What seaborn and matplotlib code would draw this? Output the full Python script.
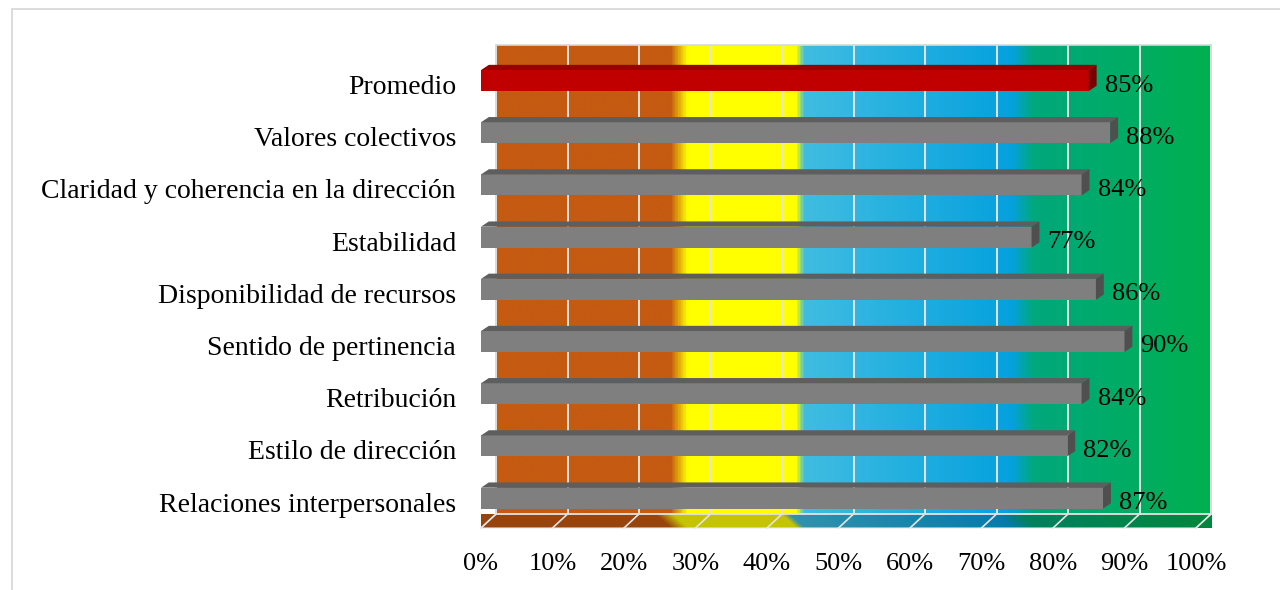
import numpy as np
import matplotlib
matplotlib.use("Agg")
import matplotlib.pyplot as plt
import seaborn as sns
import matplotlib.transforms as mtrans
from matplotlib.colors import LinearSegmentedColormap, to_rgb
from matplotlib.patches import Polygon, Rectangle

# ---------------- data ----------------
categories = [
    "Promedio",
    "Valores colectivos",
    "Claridad y coherencia en la dirección",
    "Estabilidad",
    "Disponibilidad de recursos",
    "Sentido de pertinencia",
    "Retribución",
    "Estilo de dirección",
    "Relaciones interpersonales",
]
values = [85, 88, 84, 77, 86, 90, 84, 82, 87]
bar_colors = ["#C00000"] + ["#7F7F7F"] * 8
top_colors = ["#9A0000"] + ["#5E5E5E"] * 8
side_colors = ["#7A0000"] + ["#4F4F4F"] * 8
ticks = list(range(0, 101, 10))
tick_labels = [f"{t}%" for t in ticks]

# background bands (percent positions and colours)
band_pos = [0, 24.3, 26.7, 42.0, 43.0, 72.2, 75.3, 100]
band_cols = ["#C55A11", "#C55A11", "#FFFF00", "#FFFF00",
             "#40BDE1", "#05A1DE", "#00A87C", "#00B050"]

plt.rcParams["font.family"] = ["Liberation Serif", "DejaVu Serif"]
FS_CAT = 20
FS = 19

wall_cmap = LinearSegmentedColormap.from_list(
    "wall", list(zip(np.array(band_pos) / 100, band_cols)))
floor_cmap = LinearSegmentedColormap.from_list(
    "floor", list(zip(np.array(band_pos) / 100,
                      [tuple(c * 0.77 for c in to_rgb(b)) for b in band_cols])))

fig = plt.figure(figsize=(12.8, 5.9), dpi=100)
ax = fig.add_axes([481 / 1280, (590 - 528) / 590, 715 / 1280, 469 / 590])

sns.barplot(x=values, y=categories, hue=categories, palette=bar_colors,
            legend=False, orient="h", width=0.40, saturation=1,
            ax=ax, zorder=3, linewidth=0)

# axis geometry
ybot, ytop = 8.573, -0.412
wdx, wdy = 2.1, 0.268          # depth of wall/floor (data units)
bdx, bdy = 1.1, 0.10           # depth of bars
wall_bot = ybot - wdy
wall_top = ytop - wdy

# back wall gradient
grad = np.linspace(0, 1, 1200)[None, :]
ax.imshow(grad, cmap=wall_cmap, aspect="auto", interpolation="bilinear",
          extent=[wdx, 100 + wdx, wall_bot, wall_top], clip_on=False, zorder=0)
ax.add_patch(Rectangle((wdx, wall_top), 100, wall_bot - wall_top, fill=False,
                       edgecolor="#D9D9D9", lw=1.2, clip_on=False, zorder=0.6))

# floor gradient (slanted)
nx, ny = 1200, 30
xs = np.linspace(0, 100 + wdx, nx)
fr = np.linspace(0, 1, ny)[:, None]          # 0 front -> 1 back
floor_vals = (xs[None, :] - fr * wdx) / 100
floor_img = ax.imshow(np.clip(floor_vals, 0, 1), cmap=floor_cmap, aspect="auto",
                      interpolation="bilinear", vmin=0, vmax=1,
                      extent=[0, 100 + wdx, ybot, wall_bot],
                      origin="upper", clip_on=False, zorder=0)
floor_poly = Polygon([(0, ybot), (100, ybot), (100 + wdx, wall_bot), (wdx, wall_bot)],
                     closed=True, transform=ax.transData, fill=False,
                     edgecolor="#E8E8E8", lw=0.8, clip_on=False, zorder=0.6)
ax.add_patch(floor_poly)
floor_img.set_clip_path(floor_poly)

# gridlines on wall and floor
for t in ticks:
    ax.plot([t + wdx, t + wdx], [wall_bot, wall_top], color="#E4E4E4", lw=1.4,
            clip_on=False, zorder=0.5)
    ax.plot([t, t + wdx], [ybot, wall_bot], color="#E4E4E4", lw=1.2,
            clip_on=False, zorder=0.5)

# 3D faces for bars
for patch, v, tc, sc in zip(ax.patches, values, top_colors, side_colors):
    x0 = patch.get_x()
    x1 = x0 + patch.get_width()
    ya = min(patch.get_y(), patch.get_y() + patch.get_height())
    yb = max(patch.get_y(), patch.get_y() + patch.get_height())
    ax.add_patch(Polygon([(x0, ya), (x1, ya), (x1 + bdx, ya - bdy), (x0 + bdx, ya - bdy)],
                         closed=True, facecolor=tc, edgecolor="none",
                         zorder=3.1, clip_on=False))
    ax.add_patch(Polygon([(x1, ya), (x1 + bdx, ya - bdy), (x1 + bdx, yb - bdy), (x1, yb)],
                         closed=True, facecolor=sc, edgecolor="none",
                         zorder=3.1, clip_on=False))
    ax.annotate(f"{v}%", xy=(x1, (ya + yb) / 2), xytext=(16, -5),
                textcoords="offset pixels", ha="left", va="center",
                fontsize=FS, color="black", zorder=5)

ax.set_xlim(0, 100)
ax.set_ylim(ybot, ytop)
ax.set_xticks(ticks)
ax.set_xticklabels(tick_labels, fontsize=FS)
ax.tick_params(axis="x", length=0, pad=18)
ax.tick_params(axis="y", length=0, pad=18, labelsize=FS_CAT)
shift = mtrans.ScaledTranslation(0, -7 / 100, fig.dpi_scale_trans)
for lbl in ax.get_yticklabels():
    lbl.set_verticalalignment("center")
    lbl.set_transform(lbl.get_transform() + shift)
ax.set_xlabel("")
ax.set_ylabel("")
for s in ax.spines.values():
    s.set_visible(False)
ax.patch.set_visible(False)

fig.add_artist(Rectangle((12 / 1280, -0.01), 1.02, (590 - 9) / 590 + 0.01,
                         transform=fig.transFigure, fill=False,
                         edgecolor="#D9D9D9", lw=1.3))

fig.savefig("out.png", dpi=100)
